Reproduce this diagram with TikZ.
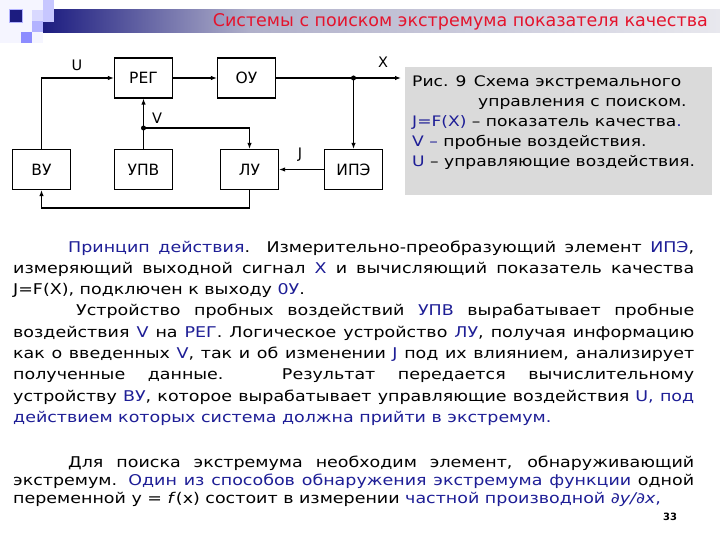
\documentclass[tikz,border=0pt]{standalone}
\usepackage{fontspec}
\setmainfont{DejaVu Sans}[FakeStretch=1.18]
\newfontfamily\plainsans{DejaVu Sans}
\usetikzlibrary{arrows.meta}
\definecolor{tblue}{RGB}{30,30,150}
\definecolor{tred}{RGB}{228,20,45}
\definecolor{navy}{RGB}{28,28,128}
\definecolor{barmid}{RGB}{176,176,202}
\definecolor{barend}{RGB}{232,232,238}
\definecolor{capgray}{RGB}{218,218,218}
\newcommand\bl[1]{\textcolor{tblue}{#1}}
\newcommand\jl[2]{\makebox[#1pt][s]{#2}}
\tikzset{
  blk/.style={draw, line width=1.2pt, minimum width=58pt, minimum height=40pt, inner sep=0pt,
    font=\plainsans\fontsize{15.5}{18}\selectfont},
  arr/.style={line width=1.2pt, -{Latex[length=6pt,width=4.5pt]}},
  sig/.style={font=\plainsans\fontsize{14.5}{16}\selectfont, inner sep=0pt},
  dotc/.style={circle, fill, inner sep=0pt, minimum size=5pt},
  body/.style={anchor=base west, inner sep=0pt, font=\fontsize{14.8}{17}\selectfont},
  captxt/.style={anchor=base west, inner sep=0pt, font=\fontsize{14.5}{16}\selectfont},
}
\begin{document}
\begin{tikzpicture}[x=1pt,y=-1pt]
\useasboundingbox (0,0) rectangle (720,540);
\fill[white] (0,0) rectangle (720,540);
% header decoration
\fill[blue!4] (0,0) rectangle (43,43);
\fill[left color=navy, right color=barmid] (43,10) rectangle (250,33);
\fill[left color=barmid, right color=barend] (250,10) rectangle (720,33);
\fill[blue!22!white] (43,0) rectangle (54,22);
\fill[blue!15!white] (32,10) rectangle (43,21);
\fill[blue!30!white] (32,21) rectangle (43,32);
\fill[blue!45!white] (21,32) rectangle (32,43);
\fill[navy] (9,9) rectangle (22,22);
\draw[blue!30!white, line width=0.8pt] (9,9) rectangle (22,22);
\node[anchor=base east, inner sep=0pt, text=tred, font=\plainsans\fontsize{17.5}{19}\selectfont] (title) at (708,27) {Системы с поиском экстремума показателя качества};

% blocks
\node[blk] (reg) at (143.5,78) {РЕГ};
\node[blk] (ou) at (246.5,78) {ОУ};
\node[blk] (vu) at (41.5,169.5) {ВУ};
\node[blk] (upv) at (143.5,169.5) {УПВ};
\node[blk] (lu) at (249.5,169.5) {ЛУ};
\node[blk] (ipe) at (353.5,169.5) {ИПЭ};

\coordinate (xend) at (401,78);
\coordinate (xdot) at (ipe.north |- ou.east);
\coordinate (vdot) at (143.5,128);
\coordinate (bot) at (249.5,208);

\draw[arr] (vu.north) |- (reg.west);
\draw[arr] (reg.east) -- (ou.west);
\draw[arr] (ou.east) -- (xend);
\draw[arr] (xdot) -- (ipe.north);
\draw[arr] (ipe.west) -- (lu.east);
\draw[arr] (upv.north) -- (reg.south);
\draw[arr] (vdot) -| (lu.north);
\draw[arr] (lu.south) |- (vu.south |- bot) -- (vu.south);
\node[dotc] (d1) at (xdot) {};
\node[dotc] (d2) at (vdot) {};

\node[sig] (lU) at (77,65) {U};
\node[sig] (lX) at (383,62) {X};
\node[sig] (lV) at (157,118) {V};
\node[sig] (lJ) at (300,155) {J};

% caption
\fill[capgray] (405,67) rectangle (712,195);
\node[captxt] (c1) at (412,87) {Рис. 9\enspace Схема экстремального};
\node[captxt] (c2) at (478,107) {управления с поиском.};
\node[captxt] (c3) at (412,127) {\bl{J=F(X)} – показатель качества\bl{.}};
\node[captxt] (c4) at (412,147) {\bl{V –} пробные воздействия.};
\node[captxt] (c5) at (412,167) {\bl{U} – управляющие воздействия.};

% body text
\node[body] (t1) at (68,252) {\jl{626}{\bl{Принцип действия}. Измерительно-преобразующий элемент \bl{ИПЭ},}};
\node[body] (t2) at (13,273.3) {\jl{681}{измеряющий выходной сигнал \bl{X} и вычисляющий показатель качества}};
\node[body] (t3) at (13,294.6) {J=F(X), подключен к выходу \bl{0У}.};
\node[body] (t4) at (76,315.9) {\jl{618}{Устройство пробных воздействий \bl{УПВ} вырабатывает пробные}};
\node[body] (t5) at (13,337.2) {\jl{681}{воздействия \bl{V} на \bl{РЕГ}. Логическое устройство \bl{ЛУ}, получая информацию}};
\node[body] (t6) at (13,358.5) {\jl{681}{как о введенных \bl{V}, так и об изменении \bl{J} под их влиянием, анализирует}};
\node[body] (t7) at (13,379.8) {\jl{681}{полученные данные. Результат передается вычислительному}};
\node[body] (t8) at (13,401.1) {\jl{681}{устройству \bl{ВУ}, которое вырабатывает управляющие воздействия \bl{U, под}}};
\node[body] (t9) at (13,422.4) {\bl{действием которых система должна прийти в экстремум.}};

\node[body] (t10) at (68,467) {\jl{626}{Для поиска экстремума необходим элемент, обнаруживающий}};
\node[body] (t11) at (13,485.3) {\jl{681}{экстремум. \bl{Один из способов обнаружения экстремума функции} одной}};
\node[body] (t12) at (13,503.6) {переменной y = \textit{f}(x) состоит в измерении \bl{частной производной \textit{∂y/∂x},}};
\node[anchor=base, inner sep=0pt, font=\plainsans\bfseries\fontsize{10}{12}\selectfont] (pg) at (670,520) {33};
\end{tikzpicture}
\end{document}
